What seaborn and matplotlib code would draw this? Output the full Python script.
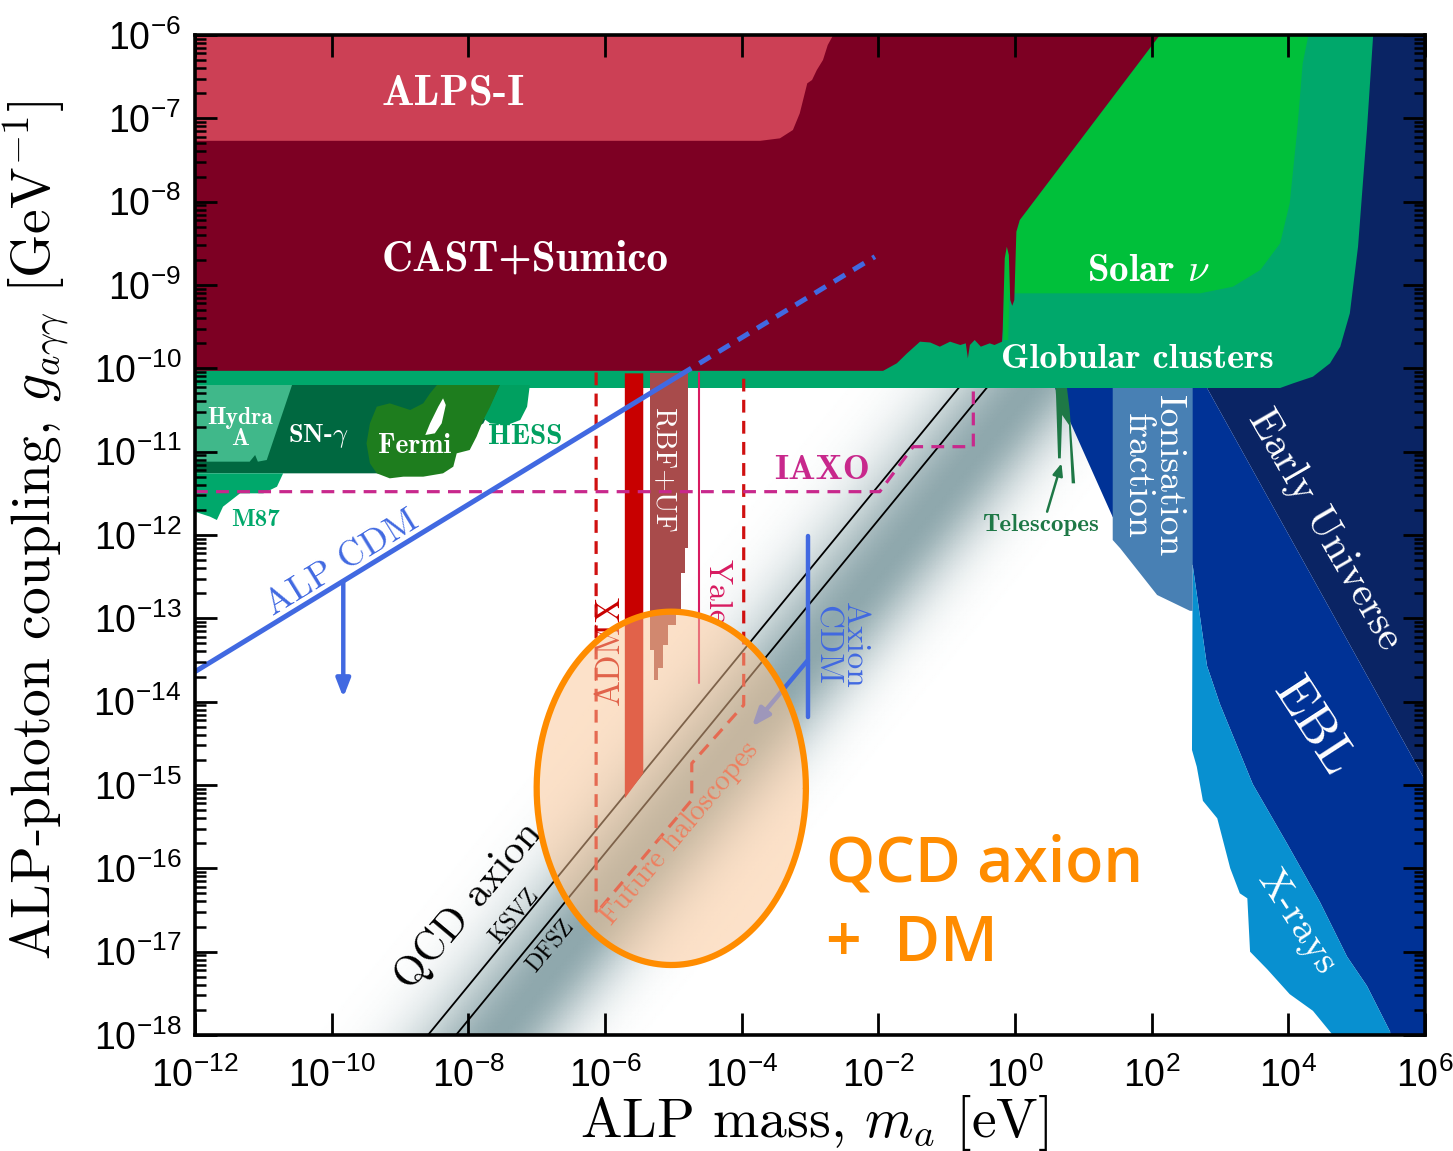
import numpy as np
import matplotlib
matplotlib.use("Agg")
import matplotlib.pyplot as plt
import seaborn as sns
import pandas as pd
from matplotlib.ticker import FixedLocator, LogLocator, LogFormatterSciNotation, NullLocator, NullFormatter
from matplotlib.colors import LinearSegmentedColormap

# ---------------- data: log10(mass/eV) and log10(g/GeV^-1) ----------------
xticks_log = [-12, -10, -8, -6, -4, -2, 0, 2, 4, 6]
yticks_log = [-18, -17, -16, -15, -14, -13, -12, -11, -10, -9, -8, -7, -6]

alps_lm = [-12, -2.66, -2.74, -2.81, -2.90, -2.97, -3.04, -3.15, -3.25, -3.44, -3.73, -12]
alps_lg = [-6, -6, -6.12, -6.30, -6.42, -6.54, -6.58, -6.94, -7.14, -7.24, -7.27, -7.27]

cast_lm = [-12, 2.12, 0.07, 0.02, -0.01, -0.04, -0.07, -0.09, -0.12, -0.15, -0.18, -0.19,
           -0.30, -0.37, -0.50, -0.59, -0.66, -0.69, -0.72, -0.80, -0.95, -1.10, -1.24, -1.39,
           -1.58, -1.73, -1.93, -2.10, -12]
cast_lg = [-6, -6, -8.22, -8.36, -9.18, -9.25, -9.18, -8.64, -8.54, -8.68, -9.54, -9.68,
           -9.72, -9.70, -9.74, -9.66, -9.72, -9.88, -9.70, -9.72, -9.68, -9.74, -9.69, -9.68,
           -9.82, -9.94, -10.03, -10.03, -10.03]

solar_lm = [2.12, 0.07, 0.03, -0.17, -0.17, -0.10, -0.08, 0.0, 2.71, 3.19, 3.59, 3.88, 4.02, 4.13, 4.21, 4.29, 4.29]
solar_lg = [-6.0, -8.22, -8.34, -8.45, -9.66, -9.66, -9.10, -9.10, -9.10, -9.02, -8.82, -8.50, -8.02, -7.14, -6.34, -6.02, -6.0]

hb_lm = [-12, 5.24, 5.24, 5.15, 5.02, 4.90, 4.76, 4.61, 4.36, 4.07, 3.88, -12]
hb_lg = [-6, -6, -6.02, -7.14, -8.54, -9.34, -9.74, -9.94, -10.10, -10.18, -10.236, -10.236]

hydra_lm = [-12, -10.58, -10.95, -11.08, -11.12, -11.20, -12]
hydra_lg = [-10.2, -10.2, -11.10, -11.12, -11.04, -11.12, -11.12]

sn_lm = [-12, -7.51, -7.78, -8.41, -9.29, -12]
sn_lg = [-10.2, -10.2, -10.66, -10.98, -11.26, -11.26]

fermi_lm = [-9.34, -9.15, -8.85, -8.66, -8.56, -8.46, -7.54, -7.68, -7.78, -7.88, -7.98, -8.17,
            -8.22, -8.37, -8.66, -8.95, -9.15, -9.34, -9.44, -9.49, -9.44]
fermi_lg = [-10.46, -10.42, -10.50, -10.42, -10.30, -10.20, -10.20, -10.46, -10.62, -10.82, -10.98, -11.02,
            -11.18, -11.26, -11.30, -11.30, -11.32, -11.26, -11.14, -10.90, -10.66]
fermi_hole_lm = [-8.63, -8.56, -8.44, -8.37, -8.33, -8.39, -8.49]
fermi_hole_lg = [-10.80, -10.66, -10.46, -10.36, -10.44, -10.66, -10.78]

hess_lm = [-7.54, -7.10, -7.14, -7.24, -7.43, -7.68, -7.78, -7.68]
hess_lg = [-10.2, -10.2, -10.46, -10.62, -10.68, -10.66, -10.60, -10.44]

m87_lm = [-12, -10.71, -10.80, -11.00, -11.34, -11.59, -11.68, -11.78, -11.93, -12]
m87_lg = [-11.26, -11.26, -11.42, -11.50, -11.50, -11.66, -11.82, -11.78, -11.74, -11.72]

eu_lm = [2.81, 6.0, 6.0, 2.81]
eu_lg = [-10.236, -14.94, -6.0, -6.0]

ebl_lm = [0.51, 0.585, 1.43, 2.0, 2.60, 2.81, 3.0, 3.48, 3.98, 4.46, 4.86, 5.15, 5.49, 5.49, 6.0, 6.0, 2.81, 2.81]
ebl_lg = [-10.1, -10.236, -11.784, -12.2, -12.36, -13.57, -14.03, -14.99, -15.70, -16.40, -17.06, -17.41,
          -17.96, -18.0, -18.0, -14.94, -10.236, -10.1]

xray_lm = [2.60, 2.59, 2.66, 2.75, 2.96, 3.15, 3.29, 3.40, 3.44, 3.69, 4.02, 4.36, 4.57, 4.65, 5.49,
           5.49, 5.15, 4.86, 4.46, 3.98, 3.48, 3.0, 2.81]
xray_lg = [-12.36, -14.58, -14.78, -15.19, -15.40, -16.0, -16.30, -16.36, -17.0, -17.21, -17.51, -17.71,
           -17.92, -18.0, -18.0, -17.96, -17.41, -17.06, -16.40, -15.70, -14.99, -14.03, -13.57]

ion_lm = [1.43, 1.43, 1.54, 2.08, 2.56, 2.60, 2.60]
ion_lg = [-10.1, -12.06, -12.16, -12.72, -12.91, -12.91, -10.1]

tel_lm = [0.58, 0.60, 0.63, 0.67, 0.69, 0.79, 0.83, 0.88, 0.80, 0.74]
tel_lg = [-10.1, -10.32, -11.08, -11.08, -10.56, -10.68, -11.38, -11.38, -10.50, -10.1]

admx_lm = [-5.71, -5.44, -5.44, -5.71]
admx_lg = [-10.06, -10.06, -14.86, -15.16]

rbf_lm = [-5.34, -4.79, -4.79, -4.83, -4.83, -4.89, -4.89, -4.96, -4.96, -5.08, -5.08, -5.15, -5.15,
          -5.22, -5.22, -5.28, -5.28, -5.34]
rbf_lg = [-10.06, -10.06, -12.16, -12.16, -12.46, -12.46, -12.90, -12.90, -13.08, -13.08, -13.32, -13.32,
          -13.60, -13.60, -13.74, -13.74, -13.38, -13.38]

yale_lm = [-4.62, -4.62]
yale_lg = [-10.06, -13.78]

halo_lm = [-6.13, -6.13, -4.73, -4.73, -3.97, -3.97]
halo_lg = [-10.05, -16.54, -15.18, -14.74, -14.04, -10.05]

iaxo_lm = [-12, -1.98, -1.49, -0.61, -0.61]
iaxo_lg = [-11.48, -11.48, -10.94, -10.94, -10.20]

alpcdm_lm = [-12, -4.90]
alpcdm_lg = [-13.64, -10.08]
alpcdm_dash_lm = [-4.90, -2.05]
alpcdm_dash_lg = [-10.08, -8.66]
alpcdm_arrow = [(-9.83, -12.56), (-9.83, -13.95)]

axcdm_lm = [-3.03, -3.03]
axcdm_lg = [-12.01, -14.18]
axcdm_arrow = [(-3.03, -13.50), (-3.85, -14.30)]

ksvz_lm = [-9.0, 3.0]
ksvz_lg = [-18.41, -6.41]
dfsz_lm = [-9.0, 3.0]
dfsz_lg = [-18.82, -6.82]

band_center, band_w_left, band_w_right = -10.45, 1.2, 0.95   # offset log g - log m

ell_lm, ell_lg, ell_ax, ell_ay = -5.03, -15.04, 1.97, 2.12

tel_arrow = [(0.47, -11.72), (0.68, -11.14)]

# ---------------- colours ----------------
C = dict(alps='#CC4055', cast='#7D0023', solar='#00C03A', hb='#00A86B', hydra='#40B88A',
         sn='#006840', fermi='#1E7D1E', hess='#00A060', m87='#00A86B', eu='#0A2464',
         ebl='#003296', xray='#0890D0', ion='#4880B4', tel='#1E7846', admx='#C80000',
         rbf='#A84B4B', yale='#D81B60', halo='#D01010', iaxo='#C8288C', blue='#4169E1',
         orange='#FF8C00', band='#8FA8AD')


def P(v):
    return 10.0 ** np.asarray(v, dtype=float)


sns.set_theme(style="white")
plt.rcParams['font.family'] = ['Liberation Sans', 'DejaVu Sans']

fig = plt.figure(figsize=(14.53, 11.51), dpi=100)
ax = fig.add_axes([195 / 1453, 1 - 1035 / 1151, 1230 / 1453, 1000 / 1151])
ax.set_xscale('log')
ax.set_yscale('log')

# QCD band gradient
gx = np.linspace(-12, 6, 361)
gy = np.linspace(-18, -6, 241)
LM, LG = np.meshgrid(gx, gy)
D = LG - LM
t = np.where(D > band_center, (D - band_center) / band_w_left, (band_center - D) / band_w_right)
I = np.exp(-t ** 2)
cmap = LinearSegmentedColormap.from_list('qcd', ['#FFFFFF', C['band']])
ax.pcolormesh(P(LM), P(LG), I, cmap=cmap, vmin=0, vmax=1, shading='gouraud', zorder=0.5, rasterized=True)

# QCD lines
for lm, lg in [(ksvz_lm, ksvz_lg), (dfsz_lm, dfsz_lg)]:
    df = pd.DataFrame({'m': P(lm), 'g': P(lg)})
    sns.lineplot(data=df, x='m', y='g', ax=ax, color='black', lw=1.3, estimator=None, sort=False, zorder=1)


def fill(lm, lg, c, z):
    ax.fill(P(lm), P(lg), color=c, lw=0, zorder=z)


fill(eu_lm, eu_lg, C['eu'], 2)
fill(ebl_lm, ebl_lg, C['ebl'], 2.1)
fill(xray_lm, xray_lg, C['xray'], 2.2)
fill(ion_lm, ion_lg, C['ion'], 2.3)
fill(tel_lm, tel_lg, C['tel'], 2.3)
fill(hb_lm, hb_lg, C['hb'], 3)
fill(solar_lm, solar_lg, C['solar'], 3.1)
fill(hydra_lm, hydra_lg, C['hydra'], 3.2)
fill(sn_lm, sn_lg, C['sn'], 3.1)
fill(hess_lm, hess_lg, C['hess'], 3.1)
fill(fermi_lm, fermi_lg, C['fermi'], 3.3)
fill(fermi_hole_lm, fermi_hole_lg, 'white', 3.4)
fill(m87_lm, m87_lg, C['m87'], 3.1)
fill(cast_lm, cast_lg, C['cast'], 4)
fill(alps_lm, alps_lg, C['alps'], 4.1)
fill(admx_lm, admx_lg, C['admx'], 5)
fill(rbf_lm, rbf_lg, C['rbf'], 5)
ax.plot(P(yale_lm), P(yale_lg), color=C['yale'], lw=1.5, zorder=5)


def line(lm, lg, **kw):
    df = pd.DataFrame({'m': P(lm), 'g': P(lg)})
    sns.lineplot(data=df, x='m', y='g', ax=ax, estimator=None, sort=False, **kw)


line(halo_lm, halo_lg, color=C['halo'], lw=2.3, linestyle=(0, (4, 2.6)), zorder=6)
line(iaxo_lm, iaxo_lg, color=C['iaxo'], lw=2.3, linestyle=(0, (4, 2.6)), zorder=6)
line(alpcdm_lm, alpcdm_lg, color=C['blue'], lw=3.6, zorder=6.5)
line(alpcdm_dash_lm, alpcdm_dash_lg, color=C['blue'], lw=3.6, linestyle=(0, (2.6, 1.9)), zorder=6.5)
line(axcdm_lm, axcdm_lg, color=C['blue'], lw=3.2, zorder=6.5)

(a0, a1) = alpcdm_arrow
ax.annotate('', xy=(P(a1[0]), P(a1[1])), xytext=(P(a0[0]), P(a0[1])),
            arrowprops=dict(arrowstyle='-|>,head_length=0.9,head_width=0.35', lw=3.2, color=C['blue'],
                            shrinkA=0, shrinkB=0), zorder=6.5)
(b0, b1) = axcdm_arrow
ax.annotate('', xy=(P(b1[0]), P(b1[1])), xytext=(P(b0[0]), P(b0[1])),
            arrowprops=dict(arrowstyle='-|>,head_length=0.9,head_width=0.35', lw=3.2, color=C['blue'],
                            shrinkA=0, shrinkB=0), zorder=6.5)
(c0, c1) = tel_arrow
ax.annotate('', xy=(P(c1[0]), P(c1[1])), xytext=(P(c0[0]), P(c0[1])),
            arrowprops=dict(arrowstyle='-|>,head_length=0.6,head_width=0.25', lw=1.8, color=C['tel'],
                            shrinkA=0, shrinkB=0), zorder=6.5)

# ---------------- labels ----------------
def T(lm, lg, s, size, color='white', rot=0, bold=False, **kw):
    ax.text(P(lm), P(lg), s, fontsize=size, color=color, rotation=rot, ha='center', va='center',
            fontfamily='cmb10' if bold else 'cmr10', math_fontfamily='cm', zorder=8,
            rotation_mode='anchor', **kw)


T(-8.22, -6.71, 'ALPS-I', 31, bold=True)
T(-7.17, -8.70, 'CAST+Sumico', 31, bold=True)
T(1.79, -9.90, 'Globular clusters', 26, bold=True)
T(1.95, -8.84, r'Solar $\nu$', 28, bold=True)
T(-11.34, -10.72, 'Hydra\nA', 17, bold=True, multialignment='center', linespacing=0.95)
T(-10.19, -10.81, r'SN-$\gamma$', 19, bold=True)
T(-8.78, -10.93, 'Fermi', 20, bold=True)
T(-7.16, -10.82, 'HESS', 21, color=C['hess'], bold=True)
T(-11.12, -11.82, 'M87', 18, color=C['m87'], bold=True)
T(0.37, -11.88, 'Telescopes', 18, color=C['tel'], bold=True)
T(-2.82, -11.23, 'IAXO', 26, color=C['iaxo'], bold=True)
T(2.02, -11.29, 'Ionisation\nfraction', 27, rot=-90, multialignment='center', linespacing=0.95)
T(4.54, -11.94, 'Early Universe', 30, rot=-60)
T(4.35, -14.30, 'EBL', 38, rot=-57)
T(4.13, -16.64, 'X-rays', 29, rot=-57)
T(-5.93, -13.38, 'ADMX', 25, color=C['admx'], rot=90)
T(-5.15, -11.22, 'RBF+UF', 21, rot=-90)
T(-4.36, -12.68, 'Yale', 24, color=C['yale'], rot=-90)
T(-2.56, -13.32, 'Axion\nCDM', 24, color=C['blue'], rot=-90, multialignment='center', linespacing=0.95)
T(-9.85, -12.34, 'ALP CDM', 26, color=C['blue'], rot=31.5)
T(-8.0, -16.44, 'QCD axion', 30, color='black', rot=50)
T(-7.32, -16.58, 'KSVZ', 17, color='black', rot=50)
T(-6.80, -16.94, 'DFSZ', 17, color='black', rot=50)
T(-4.90, -15.58, 'Future haloscopes', 21, color='#E03A2A', rot=50)

# ellipse (QCD axion + DM)
th = np.linspace(0, 2 * np.pi, 400)
ex = ell_lm + ell_ax * np.cos(th)
ey = ell_lg + ell_ay * np.sin(th)
ax.fill(P(ex), P(ey), color='#FBC594', alpha=0.5, lw=0, zorder=9)
ax.plot(P(ex), P(ey), color=C['orange'], lw=4.5, zorder=10)
ax.text(P(-2.77), P(-15.58), 'QCD axion\n+  DM', ha='left', va='top', fontsize=45,
        fontfamily='Open Sans', fontweight='semibold', color=C['orange'], linespacing=1.35, zorder=10)

# ---------------- axes ----------------
ax.set_xlim(1e-12, 1e6)
ax.set_ylim(1e-18, 1e-6)
ax.xaxis.set_major_locator(FixedLocator(P(xticks_log)))
ax.xaxis.set_minor_locator(NullLocator())
ax.yaxis.set_major_locator(FixedLocator(P(yticks_log)))
ax.yaxis.set_minor_locator(LogLocator(base=10, subs=np.arange(2, 10), numticks=200))
ax.xaxis.set_major_formatter(LogFormatterSciNotation())
ax.yaxis.set_major_formatter(LogFormatterSciNotation())
ax.yaxis.set_minor_formatter(NullFormatter())
ax.tick_params(which='both', direction='in', top=True, right=True, bottom=True, left=True, color='black')
ax.tick_params(which='major', length=16, width=2.0, labelsize=27, labelcolor='black')
ax.tick_params(axis='x', which='major', pad=16)
ax.tick_params(axis='y', which='major', pad=10)
ax.tick_params(which='minor', length=8, width=1.8)
for s in ax.spines.values():
    s.set_linewidth(2.6)
    s.set_color('black')
    s.set_zorder(20)
ax.xaxis.set_zorder(20)
ax.yaxis.set_zorder(20)

ax.set_xlabel('ALP mass, $m_a$ [eV]', fontsize=40, fontfamily='cmr10', math_fontfamily='cm', color='black')
ax.set_ylabel(r'ALP-photon coupling, $g_{a\gamma\gamma}$ [GeV$^{-1}$]', fontsize=40,
              fontfamily='cmr10', math_fontfamily='cm', color='black')
ax.xaxis.set_label_coords(0.503, -0.058)
ax.yaxis.set_label_coords(-0.100, 0.505)

fig.savefig('out.png', dpi=100)
